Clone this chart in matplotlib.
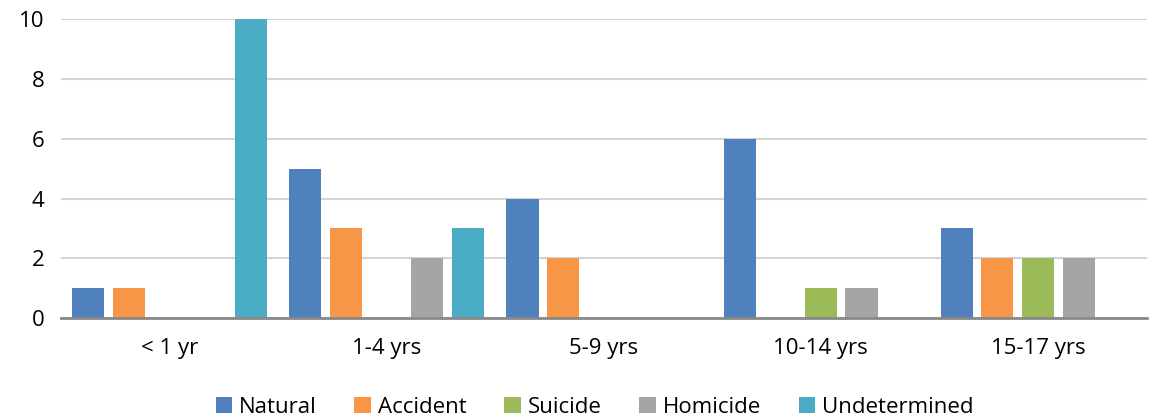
import numpy as np
import matplotlib.pyplot as plt

# deaths by age group and manner
age_groups = ['< 1 yr', '1-4 yrs', '5-9 yrs', '10-14 yrs', '15-17 yrs']
natural = [1, 5, 4, 6, 3]
accident = [1, 3, 2, 0, 2]
suicide = [0, 0, 0, 1, 2]
homicide = [0, 2, 0, 1, 2]
undetermined = [10, 3, 0, 0, 0]

series = [('Natural', natural, '#4F81BD'),
          ('Accident', accident, '#F79646'),
          ('Suicide', suicide, '#9BBB59'),
          ('Homicide', homicide, '#A5A5A5'),
          ('Undetermined', undetermined, '#4BACC6')]

plt.rcParams['font.family'] = ['Open Sans', 'DejaVu Sans']

fig = plt.figure(figsize=(11.5, 4.17), dpi=100)
ax = fig.add_axes([0.053, 0.237, 0.944, 0.717])

x = np.arange(len(age_groups))
step = 0.187
width = 0.148
for i, (name, vals, color) in enumerate(series):
    ax.bar(x + (i - 2) * step, vals, width, color=color, label=name, zorder=3)

ax.set_xlim(-0.5, len(age_groups) - 0.5)
ax.set_ylim(0, 10)
ax.set_yticks(range(0, 11, 2))
ax.set_xticks(x)
ax.set_xticklabels(age_groups)
ax.tick_params(axis='both', length=0, labelsize=16)
ax.tick_params(axis='x', pad=14)
ax.tick_params(axis='y', pad=12)
ax.yaxis.grid(True, color='#D4D4D4', linewidth=1.5, zorder=0)
for side in ['top', 'right', 'left']:
    ax.spines[side].set_visible(False)
ax.spines['bottom'].set_color('#898989')
ax.spines['bottom'].set_linewidth(2)
ax.spines['bottom'].set_zorder(4)

fig.legend(loc='lower center', bbox_to_anchor=(0.517, -0.05), ncol=5, frameon=False,
           fontsize=16, handlelength=0.75, handleheight=0.75, handletextpad=0.3,
           columnspacing=1.7)

fig.savefig('out.png')
